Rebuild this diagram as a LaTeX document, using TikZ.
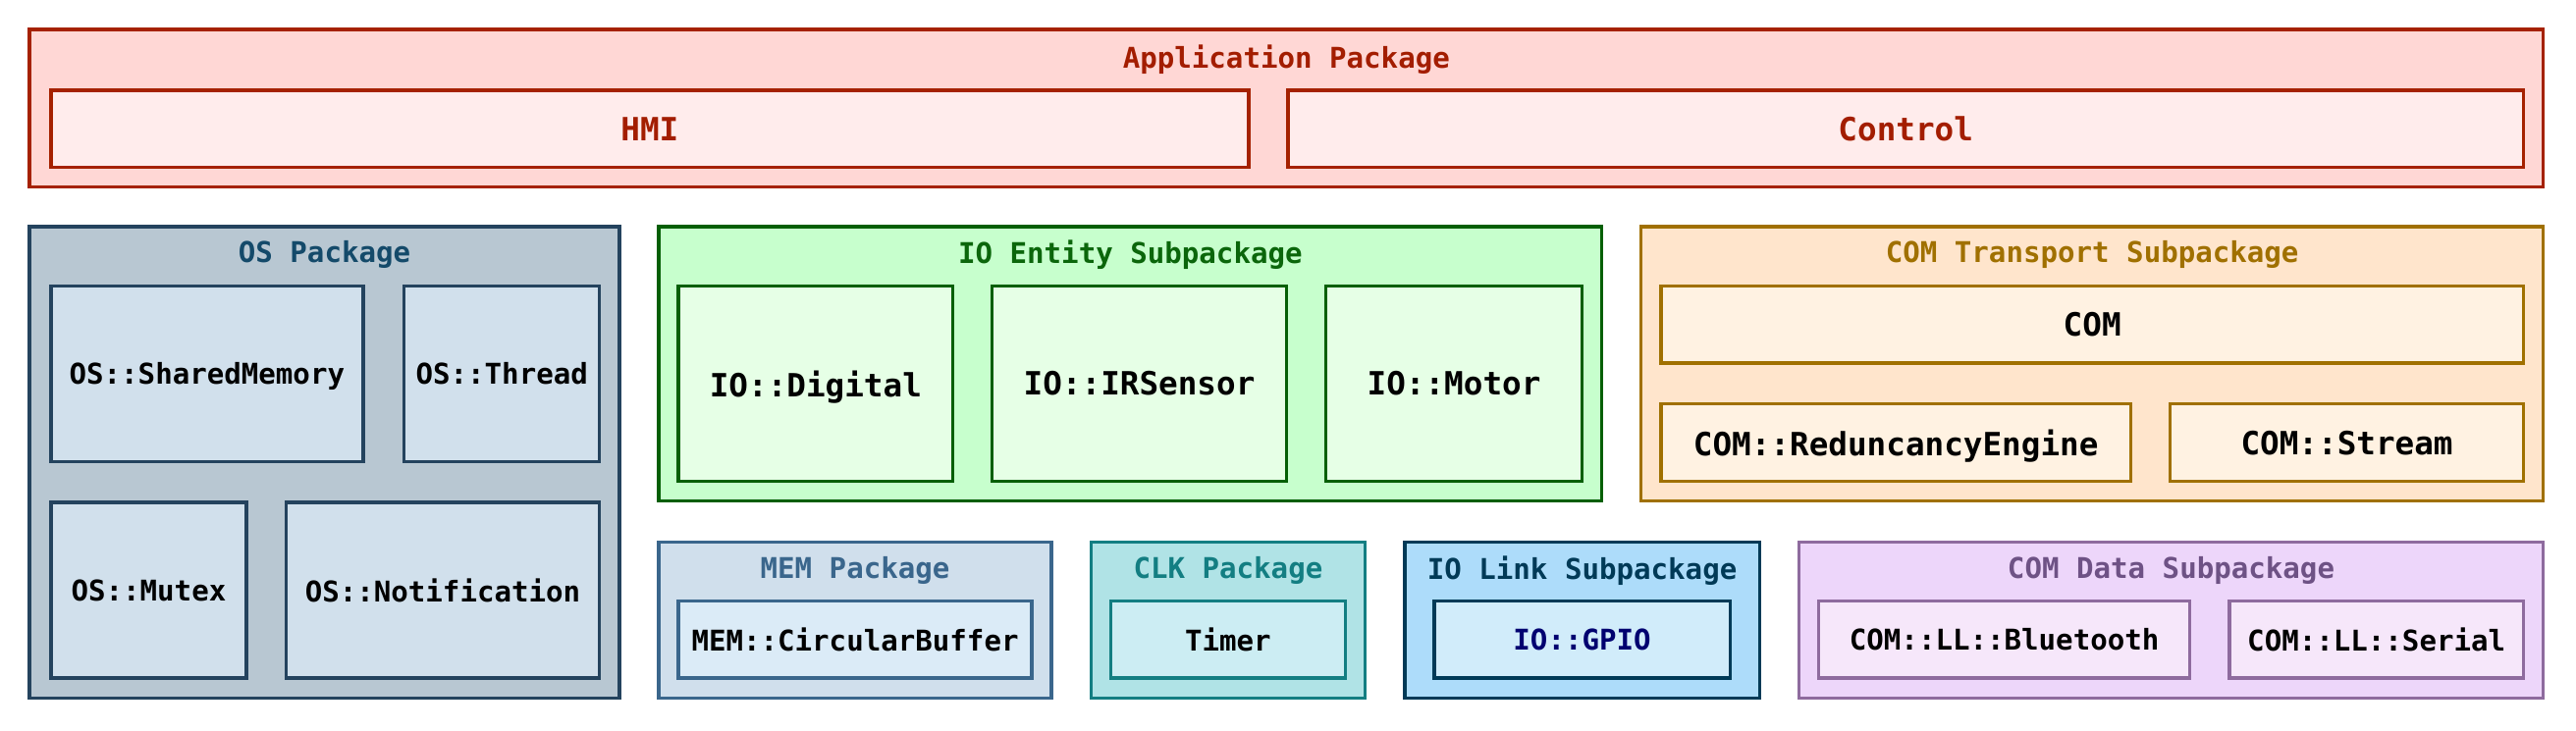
\documentclass[tikz,border=0pt]{standalone}
\usepackage{fontspec}
\setmonofont{DejaVu Sans Mono}
\definecolor{appfill}{HTML}{FFD7D5}\definecolor{appdraw}{HTML}{A52100}\definecolor{appin}{HTML}{FFECEC}\definecolor{apptxt}{HTML}{A31D00}
\definecolor{osfill}{HTML}{B8C7D2}\definecolor{osdraw}{HTML}{24435E}\definecolor{osin}{HTML}{D1E0EC}\definecolor{ostxt}{HTML}{144A6A}
\definecolor{ioefill}{HTML}{C7FFCD}\definecolor{ioedraw}{HTML}{055F05}\definecolor{ioein}{HTML}{E6FFE6}\definecolor{ioetxt}{HTML}{0B660B}
\definecolor{comtfill}{HTML}{FFE5CC}\definecolor{comtdraw}{HTML}{A07000}\definecolor{comtin}{HTML}{FFF2E2}\definecolor{comttxt}{HTML}{A07000}
\definecolor{memfill}{HTML}{D0DFEC}\definecolor{memdraw}{HTML}{3A668C}\definecolor{memin}{HTML}{DBEBF7}\definecolor{memtxt}{HTML}{3A668C}
\definecolor{clkfill}{HTML}{B0E3E6}\definecolor{clkdraw}{HTML}{137E82}\definecolor{clkin}{HTML}{CCEDF3}\definecolor{clktxt}{HTML}{137E82}
\definecolor{iolfill}{HTML}{ADDCFA}\definecolor{ioldraw}{HTML}{003A57}\definecolor{iolin}{HTML}{D1ECFA}\definecolor{ioltxt}{HTML}{003A57}\definecolor{gpiotxt}{HTML}{000070}
\definecolor{comdfill}{HTML}{EDD6FA}\definecolor{comddraw}{HTML}{8E6B9E}\definecolor{comdin}{HTML}{F6E7FA}\definecolor{comdtxt}{HTML}{6E5285}
\newcommand\mybox[7]{\node[#6, minimum width={#4-#2}, minimum height={#5-#3}] (#1) at ({(#2+#4)/2},{(#3+#5)/2}) {#7};}
\tikzset{
  base/.style={rectangle, line width=2pt, inner sep=0pt, outer sep=0pt, text depth=0pt, font=\ttfamily\bfseries\fontsize{17.4}{20}\selectfont},
  pkg/.style={base, draw=#1draw, fill=#1fill},
  cls/.style={base, draw=#1draw, fill=#1in, text=black},
  big/.style={font=\ttfamily\bfseries\fontsize{19.5}{22}\selectfont},
  ttl/.style={inner sep=0pt, text depth=0pt, text=#1txt, font=\ttfamily\bfseries\fontsize{17.4}{20}\selectfont},
}
\begin{document}
\begin{tikzpicture}[x=1pt,y=-1pt]
\useasboundingbox[fill=white] (0,0) rectangle (1568,444.6);
% Application package
\mybox{app}{18}{18}{1548}{114}{pkg=app}{}
\node[ttl=app] (appT) at (783,34.5) {Application Package};
\mybox{hmi}{31}{55}{760}{102}{cls=app,big,text=apptxt}{HMI}
\mybox{ctrl}{784}{55}{1536}{102}{cls=app,big,text=apptxt}{Control}
% OS package
\mybox{os}{18}{138}{377}{425}{pkg=os}{}
\node[ttl=os] (osT) at (197.5,153.5) {OS Package};
\mybox{shm}{31}{174}{221}{281}{cls=os}{OS::SharedMemory}
\mybox{thr}{246}{174}{365}{281}{cls=os}{OS::Thread}
\mybox{mtx}{31}{306}{150}{413}{cls=os}{OS::Mutex}
\mybox{ntf}{174}{306}{365}{413}{cls=os}{OS::Notification}
% IO Entity
\mybox{ioe}{401}{138}{975}{305}{pkg=ioe}{}
\node[ttl=ioe] (ioeT) at (688,153.5) {IO Entity Subpackage};
\mybox{dig}{413}{174}{580}{293}{cls=ioe,big}{IO::Digital}
\mybox{irs}{604}{174}{783}{293}{cls=ioe,big}{IO::IRSensor}
\mybox{mot}{807}{174}{963}{293}{cls=ioe,big}{IO::Motor}
% COM Transport
\mybox{comt}{999}{138}{1548}{305}{pkg=comt}{}
\node[ttl=comt] (comtT) at (1273.5,153.5) {COM Transport Subpackage};
\mybox{com}{1011}{174}{1536}{221}{cls=comt,big}{COM}
\mybox{red}{1011}{246}{1297}{293}{cls=comt,big}{COM::ReduncancyEngine}
\mybox{str}{1321}{246}{1536}{293}{cls=comt,big}{COM::Stream}
% MEM
\mybox{mem}{401}{330}{640}{425}{pkg=mem}{}
\node[ttl=mem] (memT) at (520.5,345.5) {MEM Package};
\mybox{cbuf}{413}{366}{628}{413}{cls=mem}{MEM::CircularBuffer}
% CLK
\mybox{clk}{664}{330}{831}{425}{pkg=clk}{}
\node[ttl=clk] (clkT) at (747.5,345.5) {CLK Package};
\mybox{tmr}{676}{366}{819}{413}{cls=clk}{Timer}
% IO Link
\mybox{iol}{855}{330}{1071}{425}{pkg=iol}{}
\node[ttl=iol] (iolT) at (963,345.5) {IO Link Subpackage};
\mybox{gpio}{873}{366}{1053}{413}{cls=iol,text=gpiotxt}{IO::GPIO}
% COM Data
\mybox{comd}{1095}{330}{1548}{425}{pkg=comd}{}
\node[ttl=comd] (comdT) at (1321.5,345.5) {COM Data Subpackage};
\mybox{bt}{1107}{366}{1333}{413}{cls=comd}{COM::LL::Bluetooth}
\mybox{ser}{1357}{366}{1536}{413}{cls=comd}{COM::LL::Serial}
\end{tikzpicture}
\end{document}
